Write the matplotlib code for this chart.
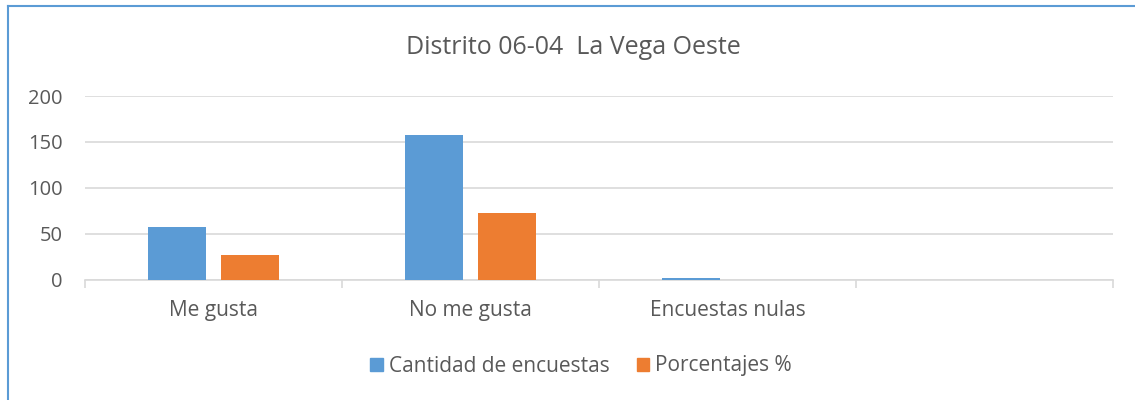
import matplotlib
matplotlib.use("Agg")
import numpy as np
import matplotlib.pyplot as plt
from matplotlib.patches import Rectangle
from matplotlib.lines import Line2D

plt.rcParams['font.family'] = ['Open Sans', 'DejaVu Sans']

# Data
categories = ["Me gusta", "No me gusta", "Encuestas nulas", ""]
cantidad = [57, 158, 2, 0]
porcentajes = [27, 73, 0, 0]
series_names = ["Cantidad de encuestas", "Porcentajes %"]
yticks = [0, 50, 100, 150, 200]

blue = "#5b9bd5"
orange = "#ed7d31"
grey_text = "#595959"
grid_col = "#d9d9d9"

fig = plt.figure(figsize=(11.35, 4.0), dpi=100)
ax = fig.add_axes([85 / 1135, 1 - 279.5 / 400, (1113 - 85) / 1135, (279.5 - 96) / 400])

x = np.arange(len(categories))
w = 0.226
off = 0.142
ax.bar(x - off, cantidad, width=w, color=blue, zorder=3, label=series_names[0])
ax.bar(x + off, porcentajes, width=w, color=orange, zorder=3, label=series_names[1])

ax.set_xlim(-0.5, len(categories) - 0.5)
ax.set_ylim(0, 200)
ax.set_yticks(yticks)
ax.set_yticklabels([str(t) for t in yticks])
ax.yaxis.grid(True, color=grid_col, linewidth=1.2, zorder=0)
ax.tick_params(axis='y', length=0, pad=16, labelsize=14.5, labelcolor=grey_text)

# category labels centred, boundary tick marks
ax.set_xticks(x)
ax.set_xticklabels(categories)
ax.tick_params(axis='x', length=0, pad=15, labelsize=15, labelcolor=grey_text)
ax.set_xticks(np.arange(-0.5, len(categories)), minor=True)
ax.tick_params(axis='x', which='minor', length=6, width=1.2, color=grid_col)

for s in ['top', 'right', 'left']:
    ax.spines[s].set_visible(False)
ax.spines['bottom'].set_color(grid_col)
ax.spines['bottom'].set_linewidth(1.2)

fig.text(573 / 1135, 1 - 47 / 400, "Distrito 06-04  La Vega Oeste", ha='center', va='center',
         fontsize=18, color=grey_text)

handles = [Rectangle((0, 0), 1, 1, color=blue), Rectangle((0, 0), 1, 1, color=orange)]
fig.legend(handles, series_names, loc='center', bbox_to_anchor=(581 / 1135, 1 - 366 / 400), ncol=2,
           frameon=False, handlelength=0.6, handleheight=0.6, handletextpad=0.3,
           columnspacing=1.3, fontsize=15, labelcolor=grey_text)

# chart border (only left and top edges fall inside the image)
fig.add_artist(Line2D([8 / 1135, 8 / 1135], [0, 1 - 6 / 400], color=blue, linewidth=1.5))
fig.add_artist(Line2D([8 / 1135, 1], [1 - 6 / 400, 1 - 6 / 400], color=blue, linewidth=1.5))

fig.savefig("out.png", dpi=100)
